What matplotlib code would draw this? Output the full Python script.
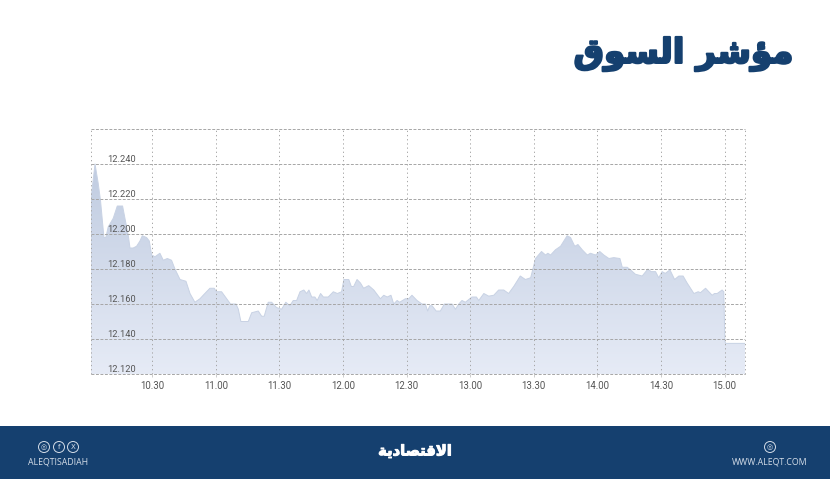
import numpy as np
import matplotlib
matplotlib.use("Agg")
import matplotlib.pyplot as plt
import matplotlib.patheffects as pe
from matplotlib.patches import Rectangle, Ellipse, Polygon

# minutes after 10:00, index points
minutes = [1.1,3.0,4.5,5.6,7.2,8.1,9.2,11.6,13.5,16.0,17.1,18.7,19.5,21.0,22.6,24.2,25.3,27.3,28.6,29.7,
 31.3,33.6,35.2,37.1,39.1,40.7,43.1,45.9,47.8,50.1,52.5,54.8,57.2,59.2,60.3,62.7,65.1,66.9,69.5,70.6,
 71.8,75.3,76.9,80,81.6,82.8,84.7,86.3,88.6,91,93,94.9,96.5,98.1,99.7,101.5,102.8,103.9,105.2,106.7,
 107.8,109.4,110.7,113,115.4,117.3,119.3,120.4,122.7,123.9,125,126.6,128.2,129.7,132.1,134.5,137.6,139.2,140.8,142.6,
 143.9,145.5,146.7,149.4,151,152.5,154.9,157.2,158.8,159.9,160.9,162,163.9,165.9,167.8,169.8,171.4,173,174.6,176.1,
 177.7,180.8,182.9,184,186.4,188.7,191.1,193.4,195.8,198.1,200.5,203.6,206,208.5,210.8,213.6,215.5,216.6,217.9,220.2,
 222.6,225.7,227.3,229.3,230.8,232.8,235.2,236.7,239.1,241.1,243,245.4,247.7,250.6,251.7,254,255.6,257.9,261.1,263.8,
 265.3,267.4,268.9,270.5,272,274.2,276.4,278.4,280.4,282.3,285.5,287.5,288.6,291,294.1,295.2,296.5,298.8,299.6,300.1,300.4,309.6]
index = [12220,12240,12229,12219,12198,12198,12204,12209,12216,12216,12209,12199,12192,12192,12193,12196,12199,12198,12196,12188,
 12187,12189,12185,12186,12185,12180,12174,12173,12166,12161,12163,12166,12169,12169,12167,12167,12163,12160,12160,12157,
 12150,12150,12155,12156,12153,12153,12161,12161,12158,12157,12161,12159,12162,12162,12167,12168,12166,12168,12164,12164,
 12162,12166,12164,12164,12167,12166,12167,12174,12174,12170,12170,12174,12172,12169,12170.5,12168,12163,12165,12164,12165,
 12160,12162,12161,12163,12163,12165,12162,12160,12160,12156,12159,12159,12156,12156,12160,12160,12160,12157,12160,12162,
 12161,12164,12164,12162,12166,12164.5,12165,12168,12168,12166,12170,12176,12174,12175,12186,12190,12188,12189,12188,12191,
 12193,12199,12198,12193,12194,12191,12188,12189,12188,12190,12188,12186,12186.5,12186,12181,12181,12179.5,12177,12176,12180,
 12178.5,12178.5,12175,12178.5,12177.5,12179.5,12174,12176,12176,12172,12166,12167,12166.5,12169,12165,12166,12166,12168,12167,12139,12137.5,12137.5]

x_tick_minutes = [30,60,90,120,150,180,210,240,270,300]
x_tick_labels = ["10.30","11.00","11.30","12.00","12.30","13.00","13.30","14.00","14.30","15.00"]
y_ticks = [12120,12140,12160,12180,12200,12220,12240]
y_tick_labels = ["12.120","12.140","12.160","12.180","12.200","12.220","12.240"]

# Arabic in contextual presentation forms, visual order (matplotlib does no shaping)
title = "\uFED5\uFEEE\uFEB4\uFEDF\uFE8D \uFEAE\uFEB7\uFE86\uFEE3"          # مؤشر السوق
brand = "\uFE94\uFEF3\uFEA9\uFE8E\uFEBC\uFE98\uFED7\uFEFB\uFE8D"          # الاقتصادية
handle = "ALEQTISADIAH"
site = "WWW.ALEQT.COM"

NAVY = "#15406F"
W, H = 830, 479
fig = plt.figure(figsize=(W/100, H/100), dpi=100, facecolor="white")
ax = fig.add_axes([91/W, 1-374/H, (745-91)/W, (374-129)/H])

grad = np.linspace(0, 1, 256).reshape(-1, 1)
cmap = matplotlib.colors.LinearSegmentedColormap.from_list("g", ["#E6EBF6", "#BFCBE0"])
im = ax.imshow(grad, origin="lower", aspect="auto", cmap=cmap,
               extent=[1.1, 309.6, 12120, 12242], zorder=1)
verts = np.column_stack([[minutes[0]] + minutes + [minutes[-1]],
                         [12120] + index + [12120]])
clip = Polygon(verts, closed=True, transform=ax.transData, fc="none", ec="none")
ax.add_patch(clip)
im.set_clip_path(clip)
ax.set_xlim(1.1, 309.6)
ax.set_ylim(12120, 12260)
ax.plot(minutes, index, color="#C8D2E4", lw=0.7, zorder=2)

GRID = "#A6A6A6"
DASH = (0, (3.0, 1.6))
DOT = (0, (1.3, 3.0))
ax.set_xticks(x_tick_minutes, x_tick_labels)
ax.set_yticks(y_ticks, y_tick_labels)
ax.grid(axis="y", color=GRID, ls=DASH, lw=0.7, zorder=3)
ax.grid(axis="x", color=GRID, ls=DOT, lw=0.7, zorder=3)
ax.set_axisbelow(False)
for s in ("top", "bottom"):
    ax.spines[s].set(color=GRID, ls=DASH, lw=0.7, capstyle="butt")
for s in ("left", "right"):
    ax.spines[s].set(color=GRID, ls=DOT, lw=0.7, capstyle="butt")
ax.tick_params(axis="x", length=2.5, width=0.6, color="#C4C4C4", pad=2.4,
               labelsize=6.9, labelcolor="#555555")
ax.tick_params(axis="y", length=0, pad=-12.0, labelsize=6.7, labelcolor="#555555")
for t in ax.get_xticklabels():
    t.set_fontfamily("Roboto")
for t in ax.get_yticklabels():
    t.set_fontfamily("Roboto")
    t.set_ha("left")
    t.set_va("bottom")

# title
fig.text(793/W, 1-54/H, title, ha="right", va="center", color=NAVY,
         fontsize=24.5, fontweight="bold", family="DejaVu Sans",
         path_effects=[pe.withStroke(linewidth=1.6, foreground=NAVY)])

# footer
fig.add_artist(Rectangle((0, 0), 1, (H-426)/H, transform=fig.transFigure, fc=NAVY, ec="none"))
fig.text(415/W, 1-451/H, brand, ha="center", va="center", color="white",
         fontsize=10.6, fontweight="bold", family="DejaVu Sans",
         path_effects=[pe.withStroke(linewidth=0.7, foreground="white")])
ICON = "#D4DDE8"
fig.text(58/W, 1-462/H, handle, ha="center", va="center", color=ICON, fontsize=6.3,
         family="Open Sans")
fig.text(770/W, 1-462/H, site, ha="center", va="center", color=ICON, fontsize=6.3,
         family="Open Sans")
for cx, s in ((44, "\u25CE"), (59, "f"), (73, "X"), (770, "\u25CE")):
    fig.add_artist(Ellipse((cx/W, 1-447/H), 11/W, 11/H, transform=fig.transFigure,
                           fc="none", ec=ICON, lw=0.7))
    fig.text(cx/W, 1-447/H, s, ha="center", va="center", color=ICON, fontsize=5,
             family="DejaVu Sans")

fig.savefig("out.png", dpi=100, facecolor="white")
